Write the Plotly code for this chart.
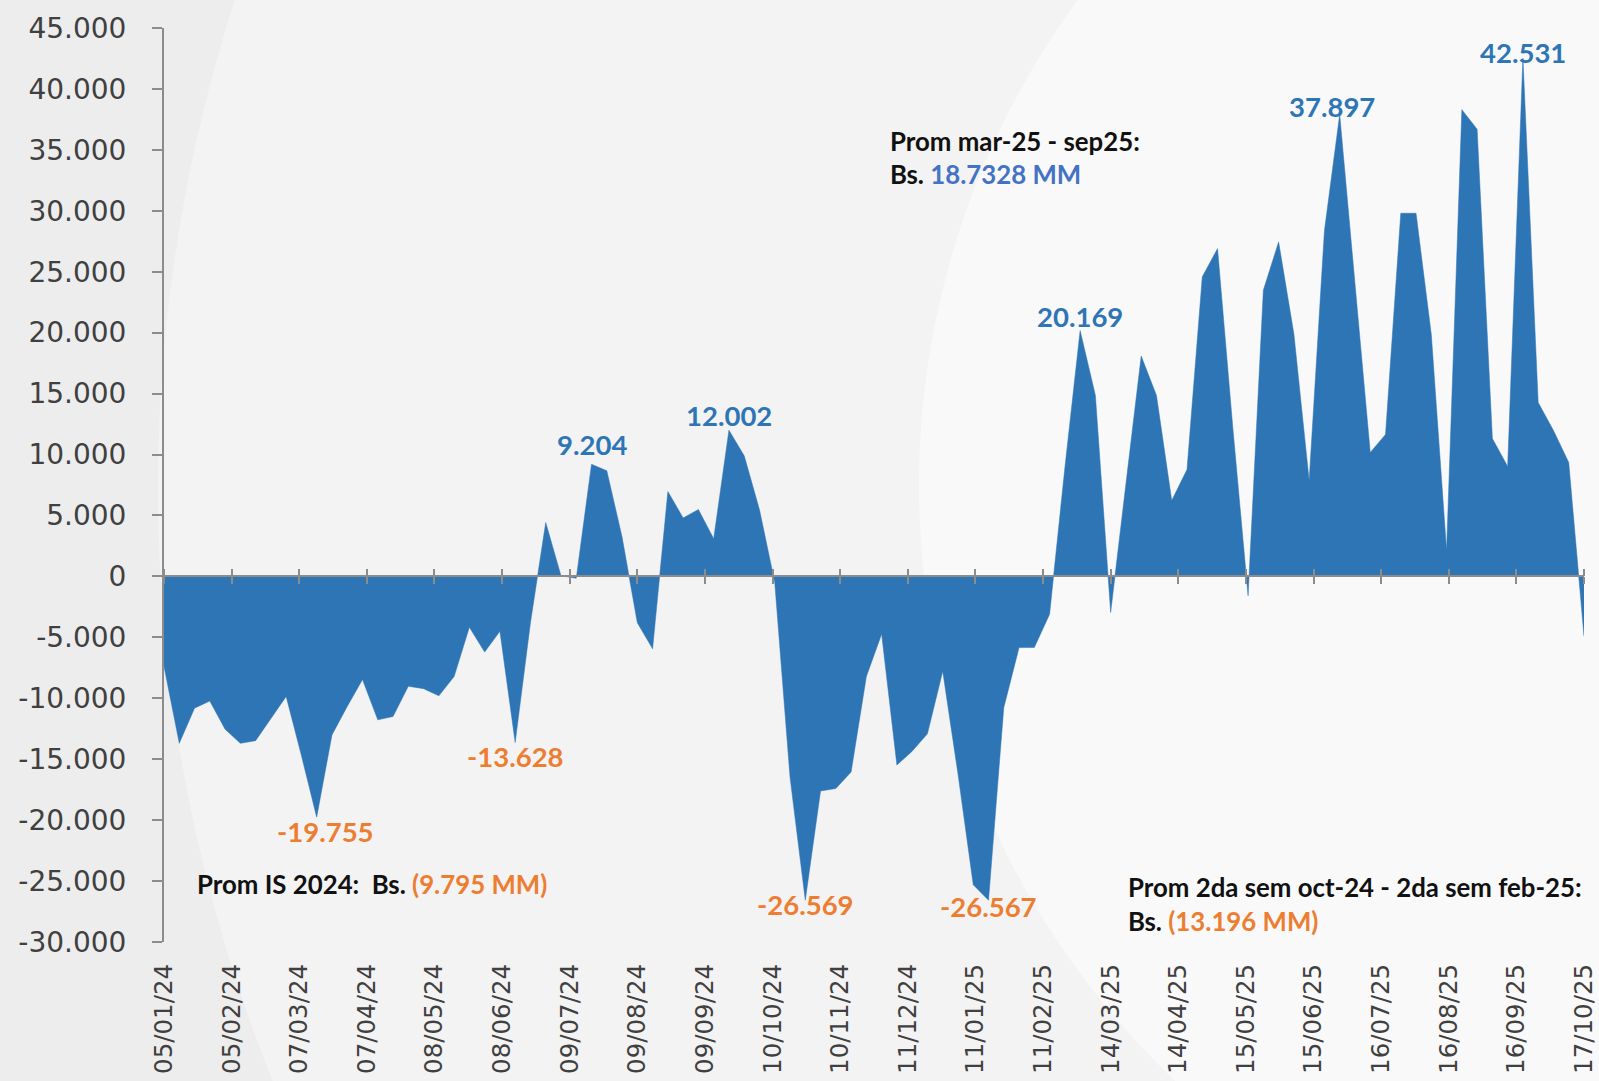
import plotly.graph_objects as go
import pandas as pd
from datetime import datetime

# ---------------- data ----------------
start_date = "2024-01-05"
values = [
    -7370, -13700, -10810, -10230, -12540, -13700, -13480, -11630, -9850, -14700,
    -19755, -13010, -10670, -8470, -11770, -11500, -9020, -9210, -9800, -8220,
    -4170, -6210, -4500, -13628, -3800, 4420, 50, -150, 9204, 8670,
    3230, -3810, -5940, 6960, 4800, 5490, 3090, 12002, 9890, 5470,
    -500, -16470, -26569, -17610, -17410, -16050, -8210, -4730, -15480, -14340,
    -12910, -7780, -16200, -25310, -26567, -10770, -5840, -5840, -3100, 8900,
    20169, 14850, -2960, 7600, 18080, 14850, 6220, 8770, 24580, 26900,
    12200, -1590, 23480, 27450, 19900, 7870, 28370, 37897, 24000, 10170,
    11640, 29800, 29800, 19840, 2130, 38300, 36700, 11320, 9020, 42531,
    14270, 11970, 9350, -4920,
]
dates = pd.date_range(start_date, periods=len(values), freq="7D")

x_tick_labels = [
    "05/01/24", "05/02/24", "07/03/24", "07/04/24", "08/05/24", "08/06/24",
    "09/07/24", "09/08/24", "09/09/24", "10/10/24", "10/11/24", "11/12/24",
    "11/01/25", "11/02/25", "14/03/25", "14/04/25", "15/05/25", "15/06/25",
    "16/07/25", "16/08/25", "16/09/25", "17/10/25",
]
x_tick_dates = [datetime.strptime(t, "%d/%m/%y") for t in x_tick_labels]

y_tick_values = [-30000, -25000, -20000, -15000, -10000, -5000, 0, 5000,
                 10000, 15000, 20000, 25000, 30000, 35000, 40000, 45000]
y_tick_labels = ["-30.000", "-25.000", "-20.000", "-15.000", "-10.000", "-5.000", "0",
                 "5.000", "10.000", "15.000", "20.000", "25.000", "30.000",
                 "35.000", "40.000", "45.000"]

label_indices = [10, 23, 28, 37, 42, 54, 60, 77, 89]

# ---------------- styles ----------------
AREA = "#2E75B6"
BLUE_LBL = "#2E75B6"
ORANGE = "#ED7D31"
LIGHT_BLUE = "#4472C4"
AXIS = "#8C8C8C"
TXT = "#404040"
W, H = 1599, 1081
ML, MR, MT, MB = 164, 15, 28, 139
PW, PH = W - ML - MR, H - MT - MB
y_min, y_max = y_tick_values[0], y_tick_values[-1]

label_xshift = {10: 9, 77: -8}
label_yshift = {28: 5, 42: 10, 54: 8, 77: -6, 89: -9}


def px(xp):
    return (xp - ML) / PW


def py(yp):
    return (H - MB - yp) / PH


fig = go.Figure()
fig.add_trace(go.Scatter(
    x=dates, y=values, mode="lines", fill="tozeroy",
    fillcolor=AREA, line=dict(color=AREA, width=0.5),
    hoverinfo="x+y", showlegend=False,
))
# helper traces so the cross-tick axes are drawn
for ax in ("x2", "x3"):
    fig.add_trace(go.Scatter(x=[dates[0]], y=[0], xaxis=ax, yaxis="y", mode="markers",
                             marker=dict(opacity=0), hoverinfo="skip", showlegend=False))

annotations = []
for i in label_indices:
    v = values[i]
    txt = f"{v:,}".replace(",", ".")
    pos = v > 0
    annotations.append(dict(
        x=dates[i], y=v, xref="x", yref="y", text=txt, showarrow=False,
        xanchor="center", yanchor="bottom" if pos else "top",
        yshift=(-4 if pos else 4) + label_yshift.get(i, 0),
        xshift=label_xshift.get(i, 0),
        font=dict(family="Lato", size=27.5, color=BLUE_LBL if pos else ORANGE, weight="bold"),
    ))

note_font = dict(family="Lato", size=25.8, color="#111111", weight="bold")
notes = [
    (888, 141, "Prom mar-25 - sep25:"),
    (888, 174, f"Bs. <span style='color:{LIGHT_BLUE}'>18.7328 MM</span>"),
    (195, 884, f"Prom IS 2024:&nbsp; Bs. <span style='color:{ORANGE}'>(9.795 MM)</span>"),
    (1126, 887, "Prom 2da sem oct-24 - 2da sem feb-25:"),
    (1126, 921, f"Bs. <span style='color:{ORANGE}'>(13.196 MM)</span>"),
]
for xp, yp, t in notes:
    annotations.append(dict(x=px(xp), y=py(yp), xref="paper", yref="paper", text=t,
                            showarrow=False, xanchor="left", yanchor="middle",
                            font=note_font))

# decorative background rings (pixel geometry converted to paper coords)
shapes = []
for cx, cy, r, col in [(1747, 488, 1589, "#F3F3F3"), (1740, 485, 821, "#F9F9F9")]:
    shapes.append(dict(type="circle", xref="paper", yref="paper", layer="below",
                       x0=px(cx - r), x1=px(cx + r), y0=py(cy + r), y1=py(cy - r),
                       fillcolor=col, line=dict(width=0)))

zero_pos = (0 - y_min) / (y_max - y_min)
xr = [dates[0], dates[-1]]
cross_axis = dict(type="date", range=xr, overlaying="x", anchor="free", position=zero_pos,
                  tickmode="array", tickvals=x_tick_dates, showticklabels=False,
                  ticks="outside", ticklen=7, tickwidth=2, tickcolor=AXIS,
                  showgrid=False, zeroline=False, fixedrange=True, automargin=False)

fig.update_layout(
    width=W, height=H,
    margin=dict(l=ML, r=MR, t=MT, b=MB, pad=0, autoexpand=False),
    paper_bgcolor="#EDEDED", plot_bgcolor="rgba(0,0,0,0)",
    showlegend=False,
    xaxis=dict(type="date", range=xr, tickmode="array", tickvals=x_tick_dates,
               ticktext=x_tick_labels, tickangle=-90, ticks="", showline=False,
               showgrid=False, zeroline=False, ticklabelstandoff=16, automargin=False,
               tickfont=dict(family="DejaVu Sans", size=24.5, color=TXT)),
    xaxis2=dict(cross_axis, side="bottom", showline=True, linecolor=AXIS, linewidth=2),
    xaxis3=dict(cross_axis, side="top", showline=False),
    yaxis=dict(range=[y_min, y_max], tickmode="array", tickvals=y_tick_values,
               ticktext=y_tick_labels, ticks="outside", ticklen=10, tickwidth=2,
               tickcolor=AXIS, showline=True, linecolor=AXIS, linewidth=2,
               showgrid=False, zeroline=False, ticklabelstandoff=20, automargin=False,
               tickfont=dict(family="DejaVu Sans", size=28, color=TXT)),
    annotations=annotations,
    shapes=shapes,
)

fig.write_html("out.html", config={"displayModeBar": False},
               post_script="document.body.style.margin='0';document.body.style.overflow='hidden';")
